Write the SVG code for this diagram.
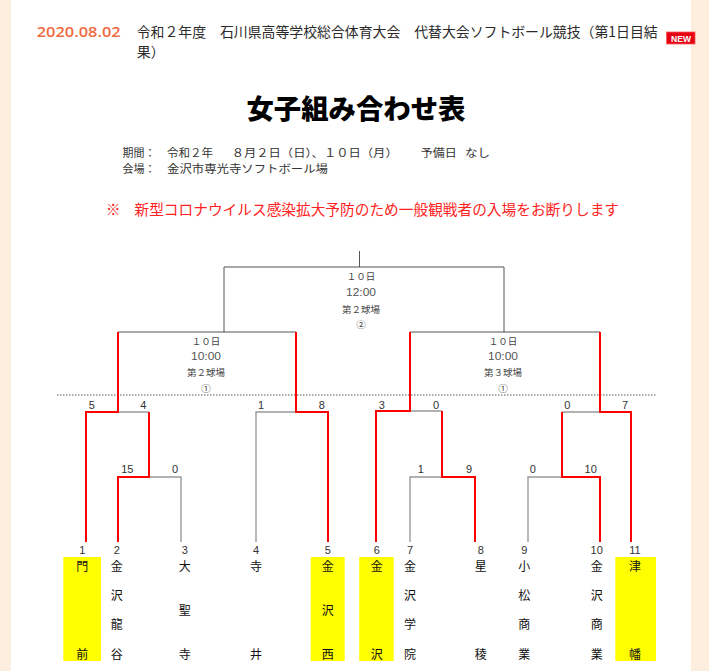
<svg xmlns="http://www.w3.org/2000/svg" width="709" height="671" viewBox="0 0 709 671">
<style>
.jp{font-family:"Noto Sans CJK JP","Noto Sans",sans-serif;}
.hd{font-size:14px;fill:#2b2b2b;}
.info{font-size:11px;fill:#333;}
.sm{font-size:9.5px;fill:#444;text-anchor:middle;}
.tme{font-family:"Liberation Sans",Arial,sans-serif;font-size:10px;fill:#555;text-anchor:middle;}
.num{font-family:"Liberation Sans",Arial,sans-serif;font-size:11px;fill:#333;text-anchor:middle;}
.tm{font-size:12px;fill:#111;text-anchor:middle;}
.top{fill:none;stroke:#555;stroke-width:1;}
.g{fill:none;stroke:#999;stroke-width:1.4;}
.r{fill:none;stroke:#ff0000;stroke-width:2;}
.hl{fill:#ffff00;}
</style>
<rect x="0" y="0" width="709" height="671" fill="#fdeede"/>
<rect x="11" y="-10" width="680" height="690" rx="5" fill="#ffffff"/>

<g id="header">
<text x="36.7" y="37" font-family="'Open Sans','Noto Sans',sans-serif" font-size="15" font-weight="600" fill="#ef6a3f" textLength="84" lengthAdjust="spacingAndGlyphs">2020.08.02</text>
<text class="jp hd" x="136.7" y="37" textLength="521" lengthAdjust="spacingAndGlyphs">令和２年度　石川県高等学校総合体育大会　代替大会ソフトボール競技（第1日目結</text>
<text class="jp hd" x="136.7" y="56.5" font-size="14.5">果）</text>
<rect x="666.5" y="32" width="28.5" height="12" fill="#e60012" stroke="#ff5a5a" stroke-width="0.8"/>
<text x="681" y="41.6" font-family="'Liberation Sans',Arial,sans-serif" font-size="9" font-weight="bold" fill="#ffffff" text-anchor="middle" textLength="20" lengthAdjust="spacingAndGlyphs">NEW</text>
</g>

<g id="title">
<text class="jp" x="356" y="119" font-size="27" font-weight="900" fill="#000" text-anchor="middle" textLength="219" lengthAdjust="spacingAndGlyphs">女子組み合わせ表</text>
</g>

<g id="info">
<text class="jp info" x="122.5" y="157">期間：</text>
<text class="jp info" x="167" y="157" textLength="46" lengthAdjust="spacingAndGlyphs">令和２年</text>
<text class="jp info" x="231.7" y="157" textLength="166" lengthAdjust="spacingAndGlyphs">８月２日（日）、１０日（月）</text>
<text class="jp info" x="420.7" y="157" textLength="36" lengthAdjust="spacingAndGlyphs">予備日</text>
<text class="jp info" x="465" y="157" textLength="25" lengthAdjust="spacingAndGlyphs">なし</text>
<text class="jp info" x="122.5" y="172.5">会場：</text>
<text class="jp info" x="167" y="172.5" textLength="161" lengthAdjust="spacingAndGlyphs">金沢市専光寺ソフトボール場</text>
</g>

<g id="notice">
<text class="jp" x="106" y="214.5" font-size="14.5" fill="#ff2222">※</text>
<text class="jp" x="134.5" y="214.5" font-size="14.5" fill="#ff2222" textLength="484.5" lengthAdjust="spacingAndGlyphs">新型コロナウイルス感染拡大予防のため一般観戦者の入場をお断りします</text>
</g>

<g id="connectors">
<path class="top" d="M359.5 251 V267 M224 267 H504 M224 267 V332 M504 267 V332"/>
<path class="top" d="M118 332 H296 M410 332 H600"/>
<line x1="57" y1="395" x2="656" y2="395" stroke="#555" stroke-width="1" stroke-dasharray="1.5 1.5"/>
<path class="g" d="M118 412 H149 M149 477 H181 V542 M256 542 V412 H296 M410 411 H442 M442 477 H410 V542 M528 542 V477 H562 M562 412 H600"/>
<path class="r" d="M86 542 V412 H118 V332 M149 412 V477 H118 V542 M296 332 V412 H328 V542 M376 542 V411 H410 V332 M442 411 V477 H475 V542 M600 542 V477 H562 V412 M600 332 V412 H631 V542"/>
</g>

<g id="match-final">
<text class="jp sm" x="361" y="280.3">１０日</text>
<text class="tme" x="361" y="295.6" textLength="30" lengthAdjust="spacingAndGlyphs">12:00</text>
<text class="jp sm" x="361" y="312.6">第２球場</text>
<text class="jp sm" x="361" y="327.8">②</text>
</g>
<g id="match-semi-left">
<text class="jp sm" x="206" y="344.6">１０日</text>
<text class="tme" x="206" y="359.6" textLength="30" lengthAdjust="spacingAndGlyphs">10:00</text>
<text class="jp sm" x="206" y="375.8">第２球場</text>
<text class="jp sm" x="206" y="391.8">①</text>
</g>
<g id="match-semi-right">
<text class="jp sm" x="503" y="344.6">１０日</text>
<text class="tme" x="503" y="359.6" textLength="30" lengthAdjust="spacingAndGlyphs">10:00</text>
<text class="jp sm" x="503" y="375.8">第３球場</text>
<text class="jp sm" x="503" y="391.8">①</text>
</g>

<g id="scores">
<text class="num" x="91.7" y="409">5</text>
<text class="num" x="143.3" y="409">4</text>
<text class="num" x="127.3" y="473">15</text>
<text class="num" x="175" y="473">0</text>
<text class="num" x="261" y="409">1</text>
<text class="num" x="321.7" y="409">8</text>
<text class="num" x="381.7" y="409">3</text>
<text class="num" x="436" y="409">0</text>
<text class="num" x="420.7" y="473">1</text>
<text class="num" x="469" y="473">9</text>
<text class="num" x="532.7" y="473">0</text>
<text class="num" x="590.7" y="473">10</text>
<text class="num" x="567.3" y="409">0</text>
<text class="num" x="625" y="409">7</text>
</g>

<g id="highlights">
<rect class="hl" x="63.3" y="557" width="37.7" height="104"/>
<rect class="hl" x="310.7" y="557" width="34" height="104"/>
<rect class="hl" x="359.2" y="557" width="34.5" height="104"/>
<rect class="hl" x="615.3" y="557" width="40.7" height="104"/>
</g>

<g id="team-1"><text class="num" x="82.3" y="554">1</text><text class="jp tm" x="82.3" y="570.6">門</text><text class="jp tm" x="82.3" y="658.6">前</text></g>
<g id="team-2"><text class="num" x="116.7" y="554">2</text><text class="jp tm" x="116.7" y="570.6">金</text><text class="jp tm" x="116.7" y="599.6">沢</text><text class="jp tm" x="116.7" y="628.9">龍</text><text class="jp tm" x="116.7" y="658.6">谷</text></g>
<g id="team-3"><text class="num" x="184.7" y="554">3</text><text class="jp tm" x="184.7" y="570.6">大</text><text class="jp tm" x="184.7" y="614.6">聖</text><text class="jp tm" x="184.7" y="658.6">寺</text></g>
<g id="team-4"><text class="num" x="256" y="554">4</text><text class="jp tm" x="256" y="570.6">寺</text><text class="jp tm" x="256" y="658.6">井</text></g>
<g id="team-5"><text class="num" x="327.7" y="554">5</text><text class="jp tm" x="327.7" y="570.6">金</text><text class="jp tm" x="327.7" y="614.6">沢</text><text class="jp tm" x="327.7" y="658.6">西</text></g>
<g id="team-6"><text class="num" x="376.7" y="554">6</text><text class="jp tm" x="376.7" y="570.6">金</text><text class="jp tm" x="376.7" y="658.6">沢</text></g>
<g id="team-7"><text class="num" x="410" y="554">7</text><text class="jp tm" x="410" y="570.6">金</text><text class="jp tm" x="410" y="599.6">沢</text><text class="jp tm" x="410" y="628.9">学</text><text class="jp tm" x="410" y="658.6">院</text></g>
<g id="team-8"><text class="num" x="480.7" y="554">8</text><text class="jp tm" x="480.7" y="570.6">星</text><text class="jp tm" x="480.7" y="658.6">稜</text></g>
<g id="team-9"><text class="num" x="524.3" y="554">9</text><text class="jp tm" x="524.3" y="570.6">小</text><text class="jp tm" x="524.3" y="599.6">松</text><text class="jp tm" x="524.3" y="628.9">商</text><text class="jp tm" x="524.3" y="658.6">業</text></g>
<g id="team-10"><text class="num" x="596.7" y="554">10</text><text class="jp tm" x="596.7" y="570.6">金</text><text class="jp tm" x="596.7" y="599.6">沢</text><text class="jp tm" x="596.7" y="628.9">商</text><text class="jp tm" x="596.7" y="658.6">業</text></g>
<g id="team-11"><text class="num" x="635" y="554">11</text><text class="jp tm" x="635" y="570.6">津</text><text class="jp tm" x="635" y="658.6">幡</text></g>
</svg>
